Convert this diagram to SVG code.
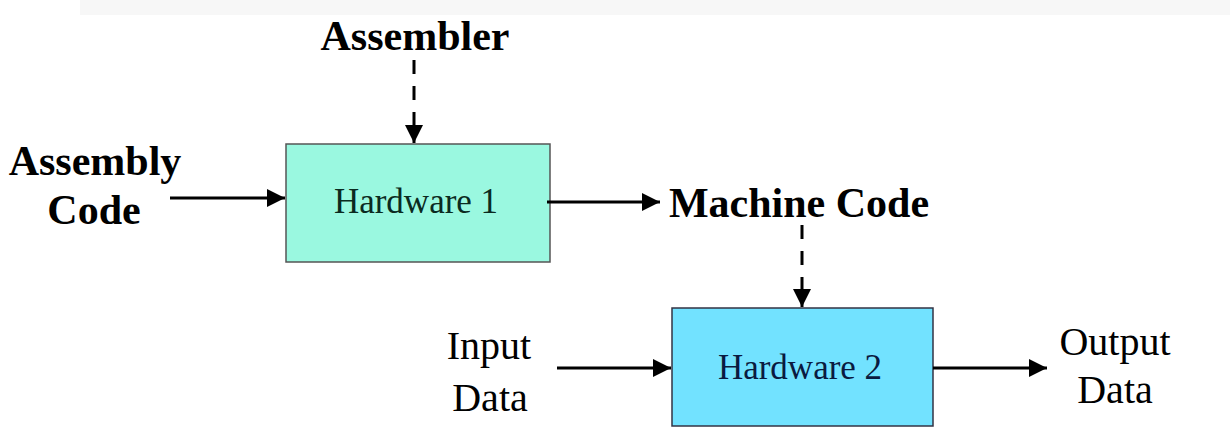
<svg xmlns="http://www.w3.org/2000/svg" width="1230" height="448" viewBox="0 0 1230 448">
<style>
.lbl{font-family:"Liberation Serif","Times New Roman",serif;fill:#000}
.b{font-weight:bold;font-size:42px}
.n{font-size:40px}
.hw{font-family:"Liberation Serif","Times New Roman",serif;font-size:35px}
.ln{stroke:#000;stroke-width:3;fill:none}
.dash{stroke-dasharray:14 12}
</style>
<defs>
<marker id="ah" markerUnits="userSpaceOnUse" markerWidth="20" markerHeight="18" refX="18" refY="9" orient="auto">
<path d="M0,0 L18,9 L0,18 Z" fill="#000"/>
</marker>
</defs>
<rect width="1230" height="448" fill="#fff"/>
<rect x="80" y="0" width="1150" height="15" fill="#f7f7f7"/>
<g id="hardware1">
<rect x="286" y="144" width="264" height="118" fill="#9af8e0" stroke="#555" stroke-width="1.5"/>
<text class="hw" x="416" y="213" text-anchor="middle" fill="#0a2a20">Hardware 1</text>
</g>
<g id="hardware2">
<rect x="672" y="308" width="261" height="118" fill="#72e2ff" stroke="#334" stroke-width="1.5"/>
<text class="hw" x="800" y="379" text-anchor="middle" fill="#0a1a40">Hardware 2</text>
</g>
<g id="assembler"><text class="lbl b" x="415" y="50" text-anchor="middle">Assembler</text></g>
<g id="assembly-code">
<text class="lbl b" x="95" y="175" text-anchor="middle">Assembly</text>
<text class="lbl b" x="94" y="224" text-anchor="middle">Code</text>
</g>
<g id="machine-code"><text class="lbl b" x="799" y="217" text-anchor="middle">Machine Code</text></g>
<g id="input-data">
<text class="lbl n" x="489" y="359" text-anchor="middle">Input</text>
<text class="lbl n" x="490" y="411" text-anchor="middle">Data</text>
</g>
<g id="output-data">
<text class="lbl n" x="1115" y="355" text-anchor="middle">Output</text>
<text class="lbl n" x="1115" y="403" text-anchor="middle">Data</text>
</g>
<g id="connectors">
<line class="ln" x1="170" y1="198" x2="285" y2="198" marker-end="url(#ah)"/>
<line class="ln" x1="547" y1="202" x2="660" y2="202" marker-end="url(#ah)"/>
<line class="ln" x1="557" y1="368" x2="671" y2="368" marker-end="url(#ah)"/>
<line class="ln" x1="933" y1="368" x2="1047" y2="368" marker-end="url(#ah)"/>
<line class="ln dash" x1="414" y1="60" x2="414" y2="143" marker-end="url(#ah)"/>
<line class="ln dash" x1="802" y1="225" x2="802" y2="307" marker-end="url(#ah)"/>
</g>
</svg>
